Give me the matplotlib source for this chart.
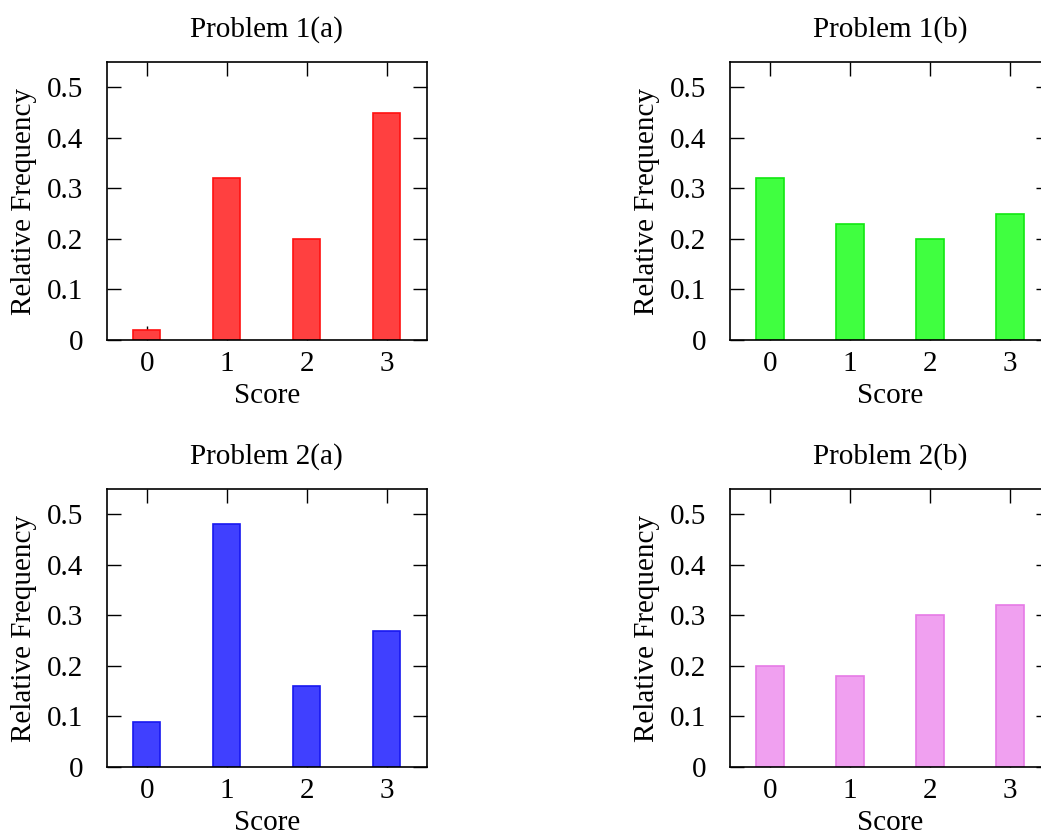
import numpy as np
import matplotlib.pyplot as plt

plt.rcParams['font.family'] = ['Liberation Serif', 'DejaVu Serif']
plt.rcParams['font.size'] = 21

scores = [0, 1, 2, 3]
p1a = [0.02, 0.32, 0.20, 0.45]
p1b = [0.32, 0.23, 0.20, 0.25]
p2a = [0.09, 0.48, 0.16, 0.27]
p2b = [0.20, 0.18, 0.30, 0.32]
titles = ['Problem 1(a)', 'Problem 1(b)', 'Problem 2(a)', 'Problem 2(b)']
yticks = [0, 0.1, 0.2, 0.3, 0.4, 0.5]
ytick_labels = ['0', '0.1', '0.2', '0.3', '0.4', '0.5']

fills = ['#ff4040', '#40ff40', '#4040ff', '#f0a0f0']
edges = ['#ff1010', '#10e810', '#1818f0', '#e67ae6']

W, H = 1041, 836
fig = plt.figure(figsize=(W / 100, H / 100), dpi=100)

# panel boxes in pixels: left, top, right, bottom
boxes = [(106.7, 62, 426.7, 340), (730, 62, 1050, 340),
         (106.7, 489, 426.7, 767), (730, 489, 1050, 767)]
data = [p1a, p1b, p2a, p2b]

for i in range(4):
    l, t, r, b = boxes[i]
    ax = fig.add_axes([l / W, 1 - b / H, (r - l) / W, (b - t) / H])
    ax.bar(scores, data[i], width=0.34, color=fills[i], edgecolor=edges[i], linewidth=1.2)
    ax.set_xlim(-0.5, 3.5)
    ax.set_ylim(0, 0.55)
    ax.set_xticks(scores)
    ax.set_yticks(yticks)
    ax.set_yticklabels(ytick_labels)
    ax.set_axisbelow(True)
    ax.tick_params(axis='x', direction='in', length=10, width=1.0, top=True, pad=8)
    ax.tick_params(axis='y', direction='in', length=10, width=1.0, right=True, pad=17)
    for s in ax.spines.values():
        s.set_linewidth(1.2)
    ax.set_title(titles[i], fontsize=21, pad=18)
    ax.set_xlabel('Score', labelpad=4.5)
    ax.set_ylabel('Relative Frequency', labelpad=7)

fig.savefig('out.png', dpi=100)
